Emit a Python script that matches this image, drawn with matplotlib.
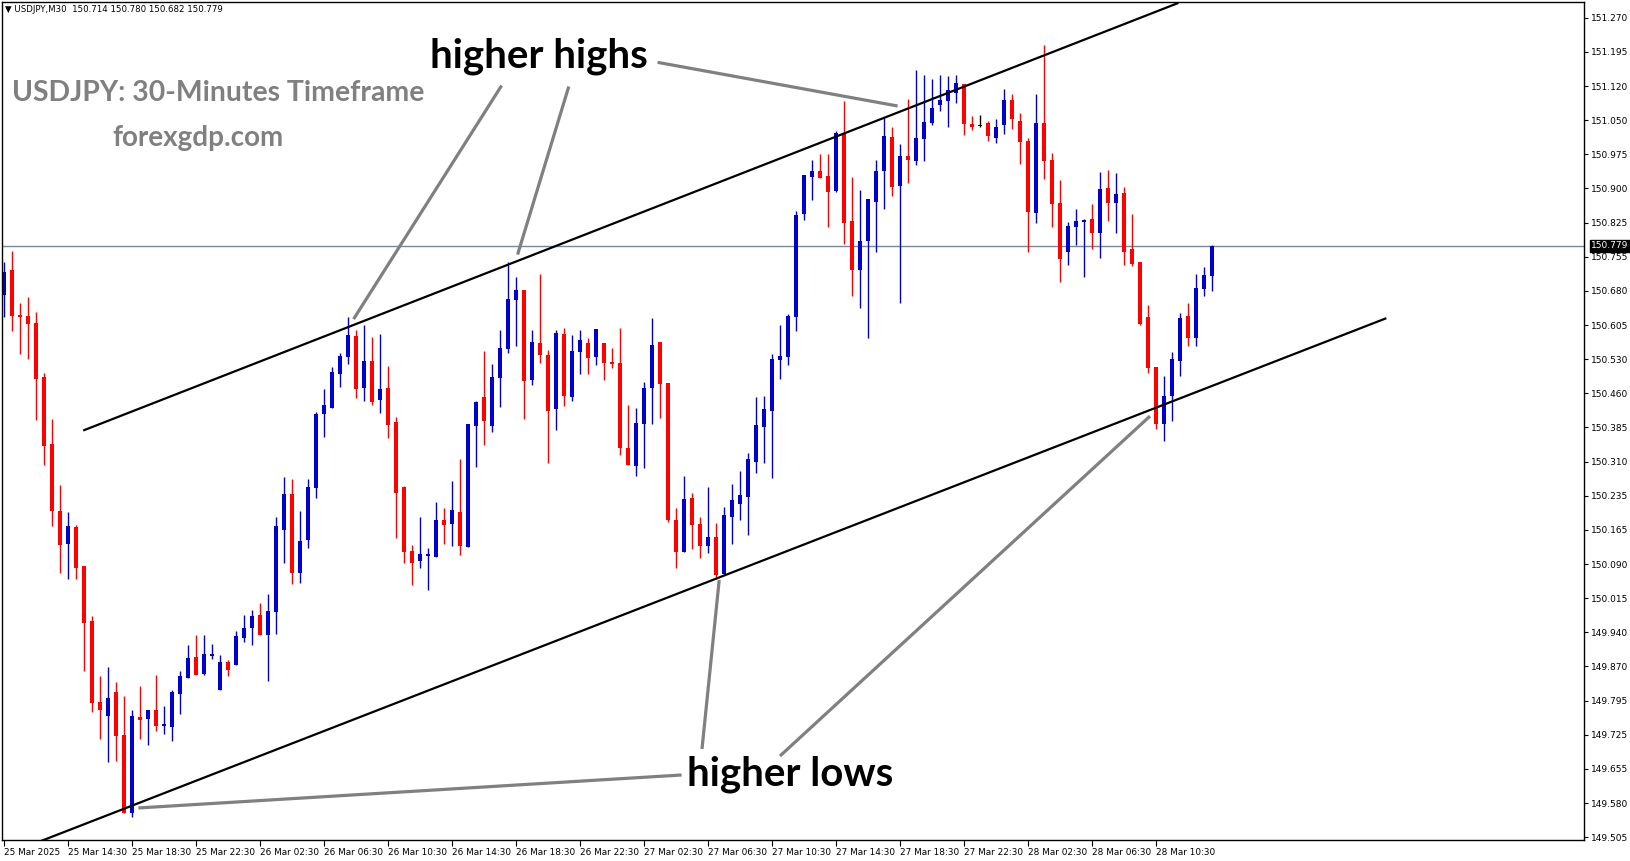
import matplotlib
matplotlib.use('Agg')
import matplotlib.pyplot as plt
import matplotlib.transforms as mtransforms
import numpy as np

# USDJPY M30 candles, 25 Mar 10:30 -> 28 Mar 14:00
opens = [150.673, 150.727, 150.630, 150.628, 150.612, 150.496, 150.352, 150.207, 150.137, 150.173,
         150.090, 149.971, 149.797, 149.767, 149.818, 149.726, 149.558, 149.764, 149.760, 149.779,
         149.745, 149.743, 149.814, 149.848, 149.894, 149.857, 149.896, 149.822, 149.883, 149.876,
         149.935, 149.956, 149.984, 149.941, 149.991, 150.167, 150.244, 150.074, 150.145, 150.257,
         150.417, 150.430, 150.503, 150.539, 150.585, 150.473, 150.531, 150.447, 150.473, 150.399,
         150.259, 150.122, 150.100, 150.111, 150.109, 150.188, 150.180, 150.206, 150.130, 150.391,
         150.453, 150.391, 150.494, 150.557, 150.662, 150.684, 150.490, 150.570, 150.544, 150.427,
         150.589, 150.453, 150.550, 150.570, 150.539, 150.570, 150.529, 150.526, 150.343, 150.305,
         150.395, 150.473, 150.572, 150.483, 150.188, 150.120, 150.236, 150.180, 150.132, 150.152,
         150.072, 150.195, 150.223, 150.238, 150.313, 150.389, 150.423, 150.533, 150.539, 150.625,
         150.847, 150.927, 150.940, 150.929, 150.897, 151.022, 150.832, 150.727, 150.789, 150.873,
         150.940, 151.013, 150.908, 150.972, 150.961, 151.009, 151.043, 151.082, 151.091, 151.108,
         151.127, 151.041, 151.037, 151.043, 151.011, 151.039, 151.093, 151.047, 151.004, 150.849,
         151.043, 150.963, 150.871, 150.765, 150.819, 150.830, 150.836, 150.806, 150.903, 150.871,
         150.892, 150.772, 150.744, 150.625, 150.518, 150.395, 150.455, 150.531, 150.628, 150.580,
         150.686, 150.714]
highs = [150.744, 150.768, 150.656, 150.668, 150.636, 150.505, 150.406, 150.263, 150.205, 150.177,
         150.090, 149.982, 149.852, 149.872, 149.840, 149.810, 149.778, 149.831, 149.779, 149.855,
         149.788, 149.822, 149.863, 149.919, 149.941, 149.941, 149.921, 149.898, 149.887, 149.950,
         149.984, 149.995, 150.010, 150.029, 150.195, 150.281, 150.277, 150.207, 150.277, 150.421,
         150.470, 150.518, 150.548, 150.625, 150.597, 150.608, 150.582, 150.589, 150.520, 150.410,
         150.262, 150.135, 150.195, 150.128, 150.227, 150.214, 150.272, 150.320, 150.395, 150.445,
         150.552, 150.524, 150.597, 150.744, 150.712, 150.684, 150.597, 150.718, 150.554, 150.597,
         150.602, 150.587, 150.597, 150.580, 150.600, 150.570, 150.559, 150.602, 150.436, 150.430,
         150.486, 150.623, 150.572, 150.483, 150.214, 150.283, 150.246, 150.195, 150.259, 150.182,
         150.216, 150.266, 150.294, 150.333, 150.453, 150.455, 150.546, 150.608, 150.632, 150.854,
         150.931, 150.963, 150.976, 150.976, 151.026, 151.091, 150.927, 150.899, 150.880, 150.963,
         151.056, 151.035, 150.998, 151.095, 151.157, 151.147, 151.138, 151.147, 151.144, 151.147,
         151.127, 151.058, 151.060, 151.047, 151.052, 151.116, 151.106, 151.065, 151.011, 151.106,
         151.211, 150.979, 150.920, 150.830, 150.858, 150.836, 150.869, 150.938, 150.942, 150.935,
         150.905, 150.847, 150.744, 150.651, 150.518, 150.498, 150.550, 150.634, 150.656, 150.718,
         150.733, 150.780]
lows = [150.625, 150.595, 150.545, 150.535, 150.404, 150.307, 150.175, 150.074, 150.062, 150.062,
        149.864, 149.775, 149.717, 149.667, 149.669, 149.558, 149.549, 149.717, 149.704, 149.734,
        149.728, 149.713, 149.771, 149.848, 149.855, 149.855, 149.889, 149.822, 149.852, 149.876,
        149.926, 149.919, 149.941, 149.842, 149.943, 150.096, 150.051, 150.053, 150.128, 150.236,
        150.367, 150.430, 150.475, 150.524, 150.451, 150.445, 150.436, 150.419, 150.365, 150.150,
        150.096, 150.049, 150.085, 150.038, 150.109, 150.137, 150.132, 150.113, 150.130, 150.303,
        150.350, 150.378, 150.432, 150.548, 150.563, 150.406, 150.479, 150.526, 150.311, 150.382,
        150.434, 150.445, 150.503, 150.503, 150.522, 150.490, 150.516, 150.328, 150.307, 150.283,
        150.300, 150.395, 150.408, 150.184, 150.085, 150.120, 150.126, 150.107, 150.117, 150.062,
        150.072, 150.137, 150.188, 150.156, 150.290, 150.311, 150.279, 150.492, 150.522, 150.595,
        150.834, 150.877, 150.925, 150.819, 150.895, 150.783, 150.671, 150.645, 150.580, 150.765,
        150.858, 150.886, 150.656, 150.914, 150.953, 150.961, 151.039, 151.069, 151.035, 151.086,
        151.017, 151.028, 151.035, 151.004, 151.000, 151.020, 151.030, 150.955, 150.765, 150.828,
        150.923, 150.819, 150.701, 150.737, 150.781, 150.712, 150.772, 150.753, 150.832, 150.806,
        150.737, 150.735, 150.608, 150.505, 150.384, 150.358, 150.402, 150.498, 150.563, 150.563,
        150.671, 150.682]
closes = [150.723, 150.628, 150.625, 150.610, 150.492, 150.348, 150.207, 150.135, 150.175, 150.085,
          149.966, 149.795, 149.779, 149.805, 149.723, 149.558, 149.767, 149.758, 149.779, 149.745,
          149.749, 149.818, 149.852, 149.891, 149.855, 149.900, 149.900, 149.883, 149.866, 149.939,
          149.956, 149.982, 149.941, 149.993, 150.175, 150.244, 150.074, 150.143, 150.259, 150.417,
          150.436, 150.507, 150.541, 150.587, 150.470, 150.531, 150.443, 150.470, 150.393, 150.247,
          150.120, 150.096, 150.115, 150.115, 150.188, 150.177, 150.210, 150.132, 150.395, 150.442,
          150.402, 150.496, 150.559, 150.664, 150.684, 150.488, 150.572, 150.544, 150.423, 150.591,
          150.455, 150.552, 150.576, 150.537, 150.600, 150.526, 150.524, 150.343, 150.307, 150.397,
          150.473, 150.565, 150.481, 150.188, 150.120, 150.234, 150.177, 150.132, 150.152, 150.070,
          150.199, 150.231, 150.242, 150.320, 150.393, 150.427, 150.535, 150.541, 150.628, 150.845,
          150.931, 150.940, 150.925, 150.895, 151.022, 150.828, 150.727, 150.789, 150.880, 150.940,
          151.015, 150.905, 150.972, 150.963, 151.011, 151.045, 151.075, 151.093, 151.114, 151.129,
          151.041, 151.035, 151.037, 151.015, 151.035, 151.093, 151.052, 151.002, 150.852, 151.043,
          150.961, 150.869, 150.750, 150.821, 150.832, 150.834, 150.806, 150.901, 150.871, 150.890,
          150.765, 150.740, 150.610, 150.516, 150.395, 150.455, 150.535, 150.623, 150.580, 150.688,
          150.716, 150.779]

last_price = 150.779

# time axis labels, one every 8 bars
time_labels = ['25 Mar 2025', '25 Mar 14:30', '25 Mar 18:30', '25 Mar 22:30', '26 Mar 02:30',
               '26 Mar 06:30', '26 Mar 10:30', '26 Mar 14:30', '26 Mar 18:30', '26 Mar 22:30',
               '27 Mar 02:30', '27 Mar 06:30', '27 Mar 10:30', '27 Mar 14:30', '27 Mar 18:30',
               '27 Mar 22:30', '28 Mar 02:30', '28 Mar 06:30', '28 Mar 10:30']
price_labels = ['149.505', '149.580', '149.655', '149.725', '149.795', '149.870', '149.940',
                '150.015', '150.090', '150.165', '150.235', '150.310', '150.385', '150.460',
                '150.530', '150.605', '150.680', '150.755', '150.825', '150.900', '150.975',
                '151.050', '151.120', '151.195', '151.270']

# channel lines (bar index, price)
upper_line = [(9.9, 150.381), (146.8, 151.302)]
lower_line = [(4.5, 149.496), (172.8, 150.623)]

# gray pointer lines for the labels
high_pointers = [[(62.2, 151.124), (43.7, 150.621)],
                 [(70.6, 151.122), (64.2, 150.760)],
                 [(81.7, 151.174), (111.7, 151.080)]]
low_pointers = [[(87.25, 149.695), (89.4, 150.059)],
                [(97.0, 149.680), (143.25, 150.412)],
                [(84.7, 149.639), (16.8, 149.568)]]

W, H = 1631, 861
fig = plt.figure(figsize=(W / 100, H / 100), dpi=100)
ax = fig.add_axes([2 / W, 21 / H, 1582 / W, 838 / H])

x = np.arange(len(opens))
o = np.array(opens)
c = np.array(closes)
colors = []
for oo, cc in zip(o, c):
    if cc > oo:
        colors.append('#0000CC')
    elif cc < oo:
        colors.append('#FF0000')
    else:
        colors.append('black')

ax.vlines(x, lows, highs, colors=colors, linewidth=1.0)
body_h = np.maximum(np.abs(c - o), 0.0025)
ax.bar(x, body_h, bottom=np.minimum(o, c), width=0.62, color=colors, linewidth=0)

ax.axhline(last_price, color='#778899', linewidth=1.0, zorder=0)

for line in [upper_line, lower_line]:
    (x0, y0), (x1, y1) = line
    ax.plot([x0, x1], [y0, y1], color='black', linewidth=1.6, solid_capstyle='butt')

for seg in high_pointers + low_pointers:
    (x0, y0), (x1, y1) = seg
    ax.plot([x0, x1], [y0, y1], color='#808080', linewidth=2.3, solid_capstyle='butt')

ax.text(66.9, 151.188, 'higher highs', fontsize=29, fontweight='bold', family='Lato',
        ha='center', va='center', color='black')
ax.text(98.3, 149.640, 'higher lows', fontsize=29, fontweight='bold', family='Lato',
        ha='center', va='center', color='black')

ax.set_xlim(-0.25, 197.5)
ax.set_ylim(149.499, 151.304)

ax.set_xticks(np.arange(0, 8 * len(time_labels), 8))
ax.set_xticklabels(time_labels, ha='left', fontsize=6.4, family='DejaVu Sans')
ax.set_yticks(np.linspace(149.505, 151.270, len(price_labels)))
ax.set_yticklabels(price_labels, fontsize=6.5, family='DejaVu Sans')
ax.yaxis.tick_right()
ax.tick_params(axis='y', direction='out', length=3, width=0.8, pad=2)
ax.tick_params(axis='x', direction='out', length=4, width=0.8, pad=2)
for s in ax.spines.values():
    s.set_linewidth(1.0)
    s.set_color('black')

trans = mtransforms.blended_transform_factory(ax.transAxes, ax.transData)
ax.text(1.0045, last_price, '150.779', transform=trans, fontsize=6.5, family='DejaVu Sans',
        color='white', va='center', ha='left',
        bbox=dict(boxstyle='square,pad=0.15', fc='black', ec='black'))

fig.text(5 / W, 1 - 10 / H, '\u25bc USDJPY,M30  150.714 150.780 150.682 150.779',
         fontsize=6.2, family='DejaVu Sans', va='center', ha='left')
fig.text(218 / W, 1 - 93 / H, 'USDJPY: 30-Minutes Timeframe', fontsize=20.4,
         fontweight='bold', family='Lato', color='#808080', ha='center', va='center')
fig.text(198 / W, 1 - 138 / H, 'forexgdp.com', fontsize=20,
         fontweight='bold', family='Lato', color='#808080', ha='center', va='center')

fig.savefig('out.png', dpi=100)
